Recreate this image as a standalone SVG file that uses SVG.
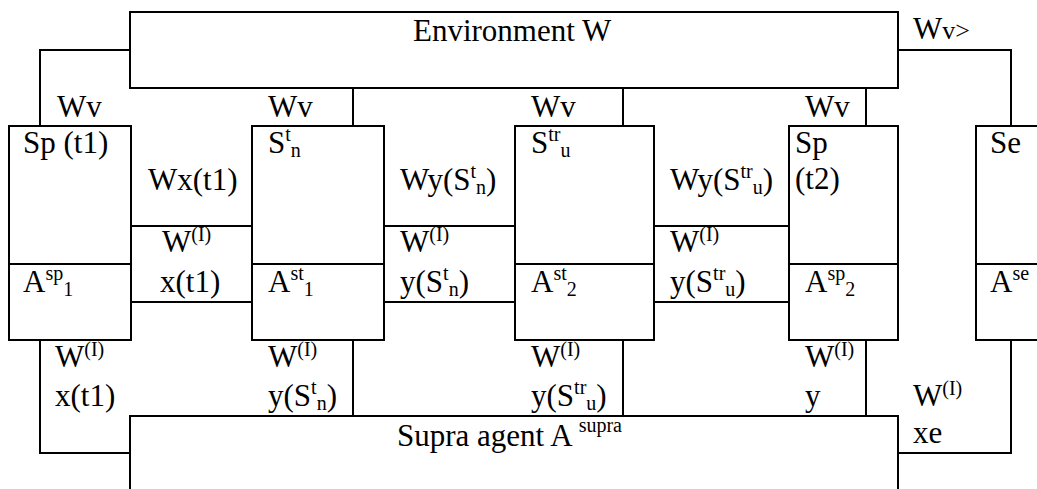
<svg xmlns="http://www.w3.org/2000/svg" width="1037" height="489" viewBox="0 0 1037 489">
  <style>
    .box { fill: #fff; stroke: #000; stroke-width: 2; }
    .ln { fill: none; stroke: #000; stroke-width: 2; }
    .t { font-family: 'Liberation Serif', 'DejaVu Serif', serif; font-size: 31px; fill: #000; }
    .s { font-size: 20px; }
    .v { font-size: 26px; }
  </style>
  <rect width="1037" height="489" fill="#fff"/>

  <!-- connectors -->
  <g id="connectors" class="ln">
    <path d="M130,50 H40 V126"/>
    <path d="M353,88 V126"/>
    <path d="M623,88 V126"/>
    <path d="M866,88 V126"/>
    <path d="M898,50 H1011 V126"/>
    <path d="M131,226 H252 M131,302 H252"/>
    <path d="M384,226 H514 M384,302 H514"/>
    <path d="M654,226 H789 M654,302 H789"/>
    <path d="M40,340 V453 H130"/>
    <path d="M353,340 V416"/>
    <path d="M623,340 V416"/>
    <path d="M866,340 V416"/>
    <path d="M1011,340 V453 H898"/>
  </g>

  <g class="t" font-family="Liberation Serif, DejaVu Serif, serif">
  <!-- environment -->
  <g id="environment">
    <rect class="box" x="130" y="12" width="768" height="76"/>
    <text x="413" y="41">Environment W</text>
  </g>

  <!-- supra agent -->
  <g id="supra">
    <rect class="box" x="130" y="416" width="768" height="100"/>
    <text x="397" y="446">Supra agent A <tspan class="s" dy="-14">supra</tspan></text>
  </g>

  <!-- agent boxes -->
  <g id="sp-t1">
    <rect class="box" x="9" y="126" width="122" height="214"/>
    <path class="ln" d="M9,264 H131"/>
    <text x="23" y="153">Sp (t1)</text>
    <text x="23" y="292">A<tspan class="s" dy="-12">sp</tspan><tspan class="s" dy="16">1</tspan></text>
  </g>

  <g id="s-t-n">
    <rect class="box" x="252" y="126" width="132" height="214"/>
    <path class="ln" d="M252,264 H384"/>
    <text x="268" y="153">S<tspan class="s" dy="-12">t</tspan><tspan class="s" dy="16">n</tspan></text>
    <text x="268" y="292">A<tspan class="s" dy="-12">st</tspan><tspan class="s" dy="16">1</tspan></text>
  </g>

  <g id="s-tr-u">
    <rect class="box" x="515" y="126" width="139" height="214"/>
    <path class="ln" d="M515,264 H654"/>
    <text x="531" y="153">S<tspan class="s" dy="-12">tr</tspan><tspan class="s" dy="16">u</tspan></text>
    <text x="531" y="292">A<tspan class="s" dy="-12">st</tspan><tspan class="s" dy="16">2</tspan></text>
  </g>

  <g id="sp-t2">
    <rect class="box" x="789" y="126" width="109" height="214"/>
    <path class="ln" d="M789,264 H898"/>
    <text x="795" y="153">Sp</text>
    <text x="795" y="189">(t2)</text>
    <text x="805" y="292">A<tspan class="s" dy="-12">sp</tspan><tspan class="s" dy="16">2</tspan></text>
  </g>

  <g id="se">
    <rect class="box" x="976" y="126" width="80" height="214"/>
    <path class="ln" d="M976,264 H1040"/>
    <text x="990" y="153">Se</text>
    <text x="990" y="292">A<tspan class="s" dy="-12">se</tspan></text>
  </g>

  <!-- flow labels -->
  <g id="labels">
    <text x="913" y="39">W<tspan class="v">v&gt;</tspan></text>
    <text x="57" y="117">Wv</text>
    <text x="268" y="117">Wv</text>
    <text x="531" y="117">Wv</text>
    <text x="805" y="117">Wv</text>

    <text x="148" y="190">Wx(t1)</text>
    <text x="400" y="190">Wy(S<tspan class="s" dy="-12">t</tspan><tspan class="s" dy="16">n</tspan><tspan dy="-4">)</tspan></text>
    <text x="670" y="190">Wy(S<tspan class="s" dy="-12">tr</tspan><tspan class="s" dy="16">u</tspan><tspan dy="-4">)</tspan></text>

    <text x="162" y="252">W<tspan class="s" dy="-11">(I)</tspan></text>
    <text x="160" y="292">x(t1)</text>
    <text x="400" y="252">W<tspan class="s" dy="-11">(I)</tspan></text>
    <text x="400" y="292">y(S<tspan class="s" dy="-12">t</tspan><tspan class="s" dy="16">n</tspan><tspan dy="-4">)</tspan></text>
    <text x="670" y="252">W<tspan class="s" dy="-11">(I)</tspan></text>
    <text x="670" y="292">y(S<tspan class="s" dy="-12">tr</tspan><tspan class="s" dy="16">u</tspan><tspan dy="-4">)</tspan></text>

    <text x="55" y="367">W<tspan class="s" dy="-11">(I)</tspan></text>
    <text x="55" y="406">x(t1)</text>
    <text x="268" y="367">W<tspan class="s" dy="-11">(I)</tspan></text>
    <text x="268" y="406">y(S<tspan class="s" dy="-12">t</tspan><tspan class="s" dy="16">n</tspan><tspan dy="-4">)</tspan></text>
    <text x="531" y="367">W<tspan class="s" dy="-11">(I)</tspan></text>
    <text x="531" y="406">y(S<tspan class="s" dy="-12">tr</tspan><tspan class="s" dy="16">u</tspan><tspan dy="-4">)</tspan></text>
    <text x="805" y="367">W<tspan class="s" dy="-11">(I)</tspan></text>
    <text x="805" y="406">y</text>
    <text x="913" y="406">W<tspan class="s" dy="-11">(I)</tspan></text>
    <text x="913" y="443">xe</text>
  </g>
  </g>
</svg>
